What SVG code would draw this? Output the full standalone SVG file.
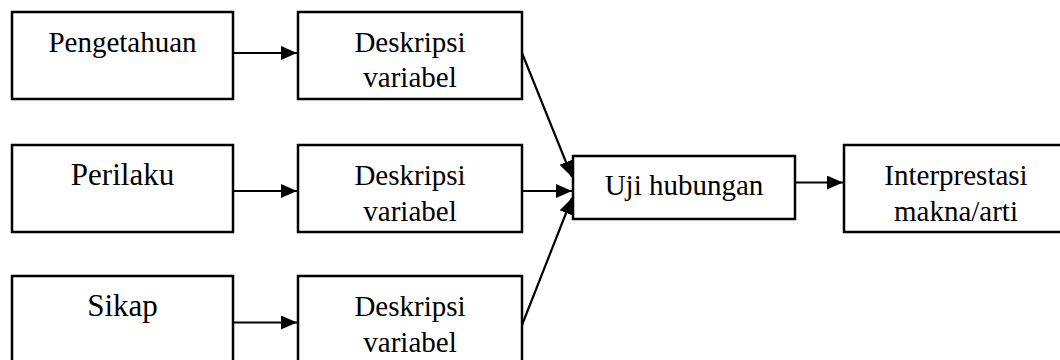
<svg xmlns="http://www.w3.org/2000/svg" width="1060" height="360" viewBox="0 0 1060 360">
<style>
rect.box { fill: #fff; stroke: #000; stroke-width: 2.5; }
text { font-family: "Liberation Serif", "Times New Roman", serif; font-size: 29px; fill: #000; text-anchor: middle; }
text.big { font-size: 31px; }
.conn line { stroke: #000; stroke-width: 2.2; marker-end: url(#arr); }
</style>
<defs>
<marker id="arr" markerUnits="userSpaceOnUse" markerWidth="17" markerHeight="15" refX="16" refY="7" orient="auto">
<path d="M0,0 L16,7 L0,14 z" fill="#000"/>
</marker>
</defs>
<rect width="1060" height="360" fill="#fff"/>
<g id="pengetahuan"><rect class="box" x="12" y="12" width="221" height="87"/><text x="122.5" y="52">Pengetahuan</text></g>
<g id="deskripsi1"><rect class="box" x="298" y="12" width="224" height="87"/><text x="410" y="52">Deskripsi</text><text x="410" y="87">variabel</text></g>
<g id="perilaku"><rect class="box" x="12" y="145" width="221" height="87"/><text class="big" x="122.5" y="185">Perilaku</text></g>
<g id="deskripsi2"><rect class="box" x="298" y="145" width="224" height="87"/><text x="410" y="185">Deskripsi</text><text x="410" y="220.5">variabel</text></g>
<g id="sikap"><rect class="box" x="12" y="276" width="221" height="87"/><text class="big" x="122.5" y="316">Sikap</text></g>
<g id="deskripsi3"><rect class="box" x="298" y="276" width="224" height="87"/><text x="410" y="316">Deskripsi</text><text x="410" y="351.5">variabel</text></g>
<g id="uji"><rect class="box" x="573" y="156" width="222" height="63"/><text x="684" y="195">Uji hubungan</text></g>
<g id="interprestasi"><rect class="box" x="844" y="145" width="224" height="87"/><text x="956" y="185">Interprestasi</text><text x="956" y="220.5">makna/arti</text></g>
<g class="conn" id="connectors">
<line x1="233" y1="53" x2="297" y2="53"/>
<line x1="233" y1="191" x2="297" y2="191"/>
<line x1="233" y1="322.5" x2="297" y2="322.5"/>
<line x1="522" y1="53" x2="572" y2="177"/>
<line x1="522" y1="191" x2="572" y2="191"/>
<line x1="522" y1="325" x2="572" y2="198"/>
<line x1="795" y1="182.5" x2="843" y2="182.5"/>
</g>
</svg>
